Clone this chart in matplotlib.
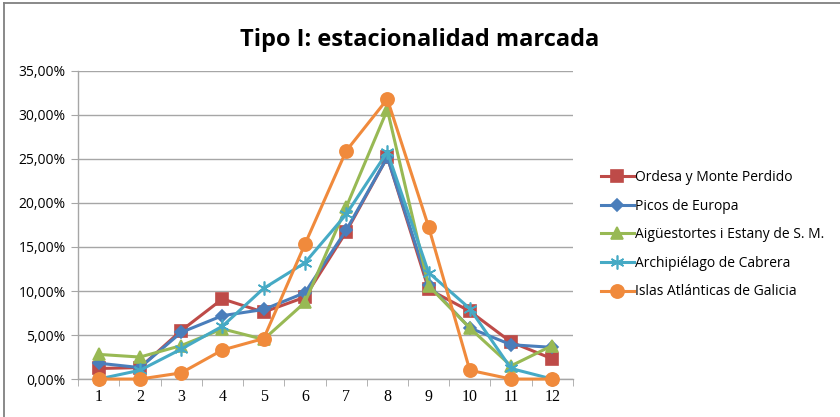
import matplotlib
matplotlib.use("Agg")
import matplotlib.pyplot as plt
from matplotlib.ticker import FuncFormatter, FixedLocator
from matplotlib.lines import Line2D

months = list(range(1, 13))
ordesa = [1.2, 1.3, 5.5, 9.1, 7.6, 9.3, 16.7, 25.2, 10.2, 7.7, 4.2, 2.3]
picos = [1.8, 1.3, 5.3, 7.2, 7.9, 9.8, 16.9, 25.2, 10.7, 5.8, 3.9, 3.6]
aiguestortes = [2.8, 2.5, 3.8, 5.7, 4.5, 8.7, 19.5, 30.6, 10.6, 5.8, 1.5, 3.8]
cabrera = [0.0, 1.0, 3.4, 6.0, 10.3, 13.2, 18.7, 25.8, 12.1, 8.0, 1.2, 0.0]
islas = [0.0, 0.0, 0.7, 3.3, 4.6, 15.3, 25.9, 31.8, 17.3, 1.0, 0.0, 0.0]
names = ["Ordesa y Monte Perdido", "Picos de Europa", "Aigüestortes i Estany de S. M.",
         "Archipiélago de Cabrera", "Islas Atlánticas de Galicia"]
title = "Tipo I: estacionalidad marcada"

plt.rcParams['font.family'] = ['Open Sans', 'DejaVu Sans']

fig = plt.figure(figsize=(8.4, 4.17), dpi=100)
ax = fig.add_axes([0.093, 0.091, 0.589, 0.739])

styles = [
    (ordesa, "#BE4B48", "s", 8.5),
    (picos, "#4A7EBB", "D", 6.5),
    (aiguestortes, "#98B954", "^", 9),
    (cabrera, "#46AAC5", (6, 2, 0), 10),
    (islas, "#F08A3C", "o", 9.5),
]
handles = []
for (vals, col, mk, ms), name in zip(styles, names):
    ln, = ax.plot(months, vals, color=col, lw=2.2, marker=mk, markersize=ms,
                  markerfacecolor=col, markeredgecolor=col, markeredgewidth=1.2,
                  label=name, clip_on=False, zorder=3)
    handles.append(ln)

ax.set_xlim(0.5, 12.5)
ax.set_ylim(0, 35)
ax.set_yticks([0, 5, 10, 15, 20, 25, 30, 35])
ax.yaxis.set_major_formatter(FuncFormatter(lambda v, p: f"{v:.2f}".replace(".", ",") + "%"))
ax.yaxis.grid(True, color="#A6A6A6", lw=1.0)
ax.set_axisbelow(True)
ax.set_xticks(months)
ax.xaxis.set_minor_locator(FixedLocator([m + 0.5 for m in range(0, 13)]))
ax.tick_params(axis="x", which="major", length=0, pad=7, labelsize=11.5)
ax.tick_params(axis="x", which="minor", length=5, color="#A6A6A6", direction="out")
ax.tick_params(axis="y", length=5, color="#A6A6A6", labelsize=10, pad=4)
for lbl in ax.get_xticklabels():
    lbl.set_fontfamily("Liberation Serif")
for s in ["top", "right"]:
    ax.spines[s].set_visible(False)
for s in ["left", "bottom"]:
    ax.spines[s].set_color("#A6A6A6")
    ax.spines[s].set_linewidth(1.0)

fig.text(0.5, 0.905, title, ha="center", va="center", fontsize=17, fontweight="bold")

leg = fig.legend(handles=handles, loc="center left", bbox_to_anchor=(0.700, 0.437),
                 frameon=False, fontsize=10, handlelength=2.4, handletextpad=0.1,
                 labelspacing=0.98)

fig.add_artist(Line2D([0.005, 0.005], [0.0, 0.992], transform=fig.transFigure,
                      color="#808080", lw=1.3))
fig.add_artist(Line2D([0.005, 1.0], [0.992, 0.992], transform=fig.transFigure,
                      color="#808080", lw=1.3))

fig.savefig("out.png", dpi=100)
